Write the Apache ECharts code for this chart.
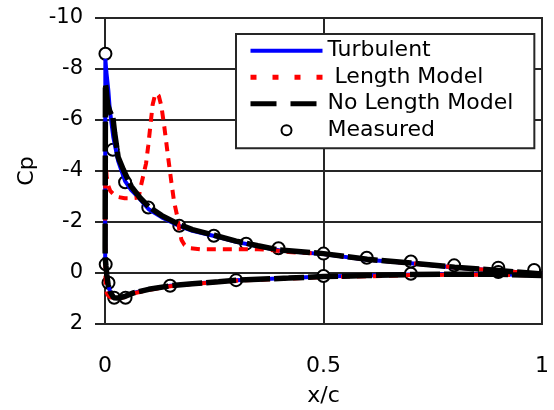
<!DOCTYPE html>
<html>
<head>
<meta charset="utf-8">
<script src="https://cdn.jsdelivr.net/npm/echarts/dist/echarts.min.js"></script>
<style>
  html, body { margin: 0; padding: 0; background: #fff; }
  #chart { width: 554px; height: 410px; }
</style>
</head>
<body>
<div id="chart"></div>
<script>
// Pressure coefficient along the chord, lower surface (trailing edge -> leading edge)
// followed by upper surface (leading edge -> trailing edge).

const turbulentX = [1.0, 0.9, 0.8, 0.7, 0.6, 0.5, 0.42, 0.3, 0.26, 0.2, 0.15, 0.1, 0.065, 0.045, 0.03, 0.02, 0.012, 0.007, 0.004, 0.002, 0.0005,
  0.0003, 0.0008,
  0.003, 0.0076, 0.011, 0.019, 0.03, 0.046, 0.06, 0.072, 0.085, 0.1, 0.13, 0.17, 0.2, 0.25, 0.3, 0.35, 0.4, 0.5, 0.6, 0.7, 0.8, 0.9, 1.0];
const turbulentCp = [0.1, 0.05, 0.05, 0.06, 0.1, 0.14, 0.2, 0.28, 0.34, 0.42, 0.5, 0.64, 0.78, 0.92, 0.98, 0.97, 0.75, 0.45, 0.05, -0.3, -0.6,
  -2.0, -8.4,
  -7.9, -7.17, -6.4, -5.33, -4.4, -3.6, -3.25, -3.05, -2.8, -2.5, -2.18, -1.85, -1.65, -1.45, -1.22, -1.05, -0.88, -0.74, -0.52, -0.38, -0.22, -0.09, 0.04];

const lengthModelX = [1.0, 0.9, 0.8, 0.7, 0.6, 0.5, 0.42, 0.3, 0.26, 0.2, 0.15, 0.1, 0.065, 0.045, 0.03, 0.02, 0.012, 0.007, 0.004, 0.002, 0.0008,
  0.0003, 0.0008,
  0.002, 0.004, 0.007, 0.012, 0.02, 0.03, 0.045, 0.06, 0.072, 0.078, 0.082, 0.088, 0.094, 0.099, 0.104, 0.109, 0.114, 0.118, 0.123, 0.129, 0.136,
  0.144, 0.152, 0.158, 0.165, 0.17, 0.175, 0.182, 0.195, 0.22, 0.26, 0.3, 0.35, 0.38, 0.42, 0.5, 0.6, 0.7, 0.8, 0.9, 1.0];
const lengthModelCp = [0.1, 0.07, 0.07, 0.08, 0.13, 0.16, 0.22, 0.3, 0.35, 0.43, 0.52, 0.66, 0.8, 0.94, 1.0, 1.0, 0.95, 0.88, 0.78, 0.5, 0.0,
  -2.0, -4.3,
  -4.2, -3.75, -3.45, -3.22, -3.08, -2.98, -2.93, -2.93, -2.95, -3.05, -3.4, -3.85, -4.3, -5.0, -5.8, -6.6, -6.95, -7.05, -6.95, -6.55, -5.7,
  -4.6, -3.55, -2.8, -2.25, -1.7, -1.3, -1.1, -0.97, -0.93, -0.93, -0.93, -0.93, -0.9, -0.82, -0.75, -0.53, -0.38, -0.22, -0.09, 0.04];

const noLengthX = [1.0, 0.9, 0.8, 0.7, 0.6, 0.5, 0.42, 0.3, 0.26, 0.2, 0.15, 0.1, 0.065, 0.045, 0.03, 0.02, 0.012, 0.007, 0.004, 0.002, 0.0005,
  0.0003, 0.001,
  0.002, 0.006, 0.012, 0.018, 0.022, 0.03, 0.042, 0.06, 0.08, 0.1, 0.13, 0.17, 0.2, 0.25, 0.3, 0.35, 0.4, 0.5, 0.6, 0.7, 0.8, 0.9, 1.0];
const noLengthCp = [0.1, 0.05, 0.05, 0.06, 0.1, 0.14, 0.2, 0.28, 0.34, 0.42, 0.5, 0.64, 0.78, 0.92, 0.98, 0.97, 0.75, 0.45, 0.05, -0.3, -0.6,
  -1.0, -7.4,
  -7.3, -6.6, -6.3, -6.1, -5.5, -4.55, -4.05, -3.4, -2.95, -2.6, -2.25, -1.9, -1.7, -1.48, -1.25, -1.07, -0.9, -0.76, -0.54, -0.39, -0.23, -0.1, 0.04];

const measuredX = [0.001, 0.018, 0.046, 0.099, 0.17, 0.249, 0.323, 0.397, 0.5, 0.599, 0.70, 0.799, 0.9, 0.982,
  0.0016, 0.008, 0.021, 0.047, 0.149, 0.30, 0.5, 0.70, 0.9];
const measuredCp = [-8.6, -4.83, -3.56, -2.57, -1.85, -1.46, -1.15, -0.97, -0.76, -0.6, -0.45, -0.3, -0.21, -0.12,
  -0.34, 0.38, 0.97, 0.97, 0.5, 0.28, 0.12, 0.03, -0.04];

const xTicks = { min: 0, max: 1, interval: 0.5 };
const yTicks = { min: -10, max: 2, interval: 2 };

const seriesNames = ['Turbulent', ' Length Model', 'No Length Model', 'Measured'];

const zip = (xs, ys) => xs.map((x, i) => [x, ys[i]]);

const FONT = 'DejaVu Sans';
const INK = '#262626';
// legend entries for the line series show only the stroke, no marker
const noMarker = { color: 'rgba(0,0,0,0)', borderColor: 'rgba(0,0,0,0)', borderWidth: 0, opacity: 0 };

const chart = echarts.init(document.getElementById('chart'), null, { renderer: 'canvas' });

chart.setOption({
  animation: false,
  backgroundColor: '#fff',
  grid: {
    left: 105, right: 12, top: 18, bottom: 86,
    show: true, borderColor: INK, borderWidth: 2,
    outerBoundsMode: 'none'
  },
  xAxis: {
    type: 'value',
    min: xTicks.min, max: xTicks.max, interval: xTicks.interval,
    name: 'x/c', nameLocation: 'middle', nameGap: 61,
    nameTextStyle: { fontFamily: FONT, fontSize: 22, color: '#000' },
    axisLine: { onZero: false, lineStyle: { color: INK, width: 2 } },
    axisTick: { show: false },
    axisLabel: { fontFamily: FONT, fontSize: 22, color: '#000', margin: 31,
      formatter: v => String(v) },
    splitLine: { show: true, lineStyle: { color: INK, width: 2 } }
  },
  yAxis: {
    type: 'value', inverse: true,
    min: yTicks.min, max: yTicks.max, interval: yTicks.interval,
    name: 'Cp', nameLocation: 'middle', nameGap: 66,
    nameTextStyle: { fontFamily: FONT, fontSize: 22, color: '#000' },
    axisLine: { onZero: false, lineStyle: { color: INK, width: 2 } },
    axisTick: { show: true, inside: false, length: 10, lineStyle: { color: INK, width: 2 } },
    axisLabel: { fontFamily: FONT, fontSize: 21, color: '#000', margin: 22 },
    splitLine: { show: true, lineStyle: { color: INK, width: 2 } }
  },
  legend: {
    orient: 'vertical',
    left: 236, top: 34,
    padding: [4.7, 21, 6, 12],
    itemGap: 2.5,
    itemWidth: 72, itemHeight: 10,
    backgroundColor: '#fff',
    borderColor: INK, borderWidth: 2,
    textStyle: { fontFamily: FONT, fontSize: 22, color: '#000', lineHeight: 24 },
    data: [
      { name: seriesNames[0], itemStyle: noMarker,
        lineStyle: { color: '#0000ff', width: 4, type: 'solid' } },
      { name: seriesNames[1], itemStyle: noMarker,
        lineStyle: { color: '#ff0000', width: 5, type: [6, 16] } },
      { name: seriesNames[2], itemStyle: noMarker,
        lineStyle: { color: '#000', width: 5, type: [26, 14] } },
      { name: seriesNames[3], icon: 'circle',
        itemStyle: { color: '#fff', borderColor: '#000', borderWidth: 2 } }
    ]
  },
  series: [
    {
      name: seriesNames[0], type: 'line', data: zip(turbulentX, turbulentCp),
      showSymbol: false, symbol: 'none',
      lineStyle: { color: '#0000ff', width: 4 },
      itemStyle: { color: '#0000ff' }
    },
    {
      name: seriesNames[1], type: 'line', data: zip(lengthModelX, lengthModelCp),
      showSymbol: false, symbol: 'none',
      lineStyle: { color: '#ff0000', width: 4, type: [9, 7] },
      itemStyle: { color: '#ff0000' }
    },
    {
      name: seriesNames[2], type: 'line', data: zip(noLengthX, noLengthCp),
      showSymbol: false, symbol: 'none',
      lineStyle: { color: '#000', width: 5.5, type: [30, 4] },
      itemStyle: { color: '#000' }
    },
    {
      name: seriesNames[3], type: 'scatter', data: zip(measuredX, measuredCp),
      symbol: 'circle', symbolSize: 12,
      itemStyle: { color: '#fff', borderColor: '#000', borderWidth: 2, opacity: 1 }
    }
  ]
});
</script>
</body>
</html>
